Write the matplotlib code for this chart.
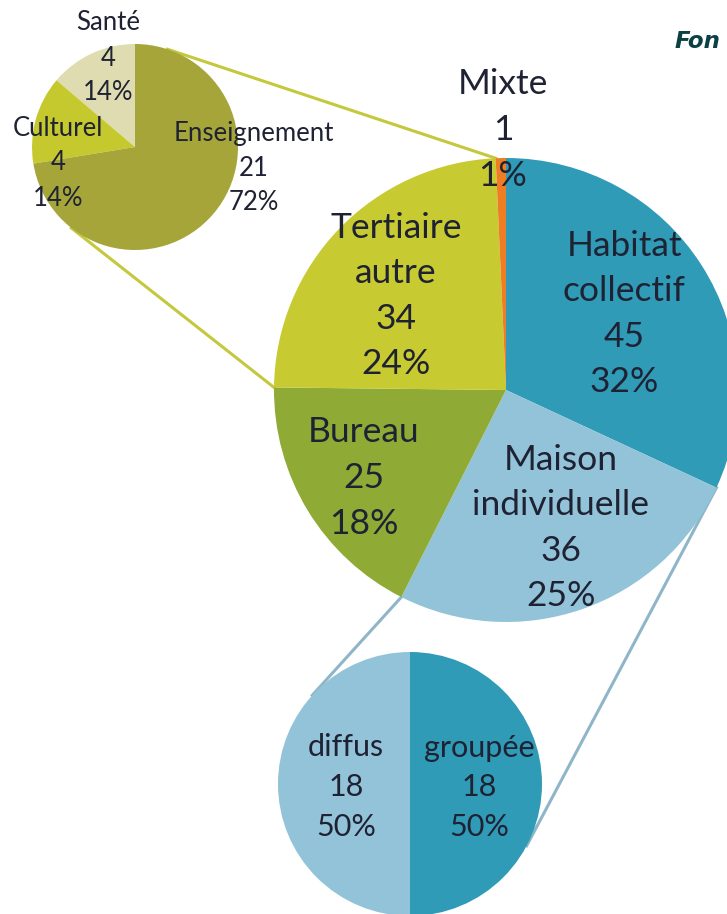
import numpy as np
import matplotlib
matplotlib.use('Agg')
import matplotlib.pyplot as plt

plt.rcParams['font.family'] = ['Lato', 'DejaVu Sans']

# --- Data ---
main_labels = ['Habitat\ncollectif', 'Maison\nindividuelle', 'Bureau', 'Tertiaire\nautre', 'Mixte']
main_values = [45, 36, 25, 34, 1]
main_pct = ['32%', '25%', '18%', '24%', '1%']

tert_labels = ['Santé', 'Culturel', 'Enseignement']
tert_values = [4, 4, 21]
tert_pct = ['14%', '14%', '72%']

maison_labels = ['diffus', 'groupée']
maison_values = [18, 18]
maison_pct = ['50%', '50%']

# --- Colours / layout ---
main_colors = ['#2f9bb7', '#93c3d8', '#8fab36', '#c8ca32', '#ee7d23']
tert_colors = ['#dedcb0', '#c6c92e', '#a6a53a']
maison_colors = ['#93c3d8', '#2f9bb7']
txt = '#1f2233'

W, H = 727, 914
fig = plt.figure(figsize=(W / 100, H / 100), dpi=100)
ax = fig.add_axes([0, 0, 1, 1])

def px(x, y):
    # pixel (top-left origin) -> data coords
    return (x, H - y)

main_c, main_r = px(506, 390), 232
tert_c, tert_r = px(135, 147), 103
mais_c, mais_r = px(410, 784), 132

wm, _ = ax.pie(main_values, colors=main_colors, startangle=90, counterclock=False,
               center=main_c, radius=main_r, frame=True)
wt, _ = ax.pie(tert_values, colors=tert_colors, startangle=90, counterclock=True,
               center=tert_c, radius=tert_r, frame=True)
wb, _ = ax.pie(maison_values, colors=maison_colors, startangle=90, counterclock=True,
               center=mais_c, radius=mais_r, frame=True)
ax.set_xlim(0, W); ax.set_ylim(0, H); ax.set_aspect('equal'); ax.axis('off')

# --- Connector lines (tangents from slice edges to secondary pies) ---
def edge_point(c, r, ang):
    a = np.deg2rad(ang)
    return np.array([c[0] + r * np.cos(a), c[1] + r * np.sin(a)])

def tangent_point(p, c, r, side):
    d = np.array(p) - np.array(c)
    dist = np.hypot(*d)
    base = np.arctan2(d[1], d[0])
    a = base + side * np.arccos(r / dist)
    return np.array([c[0] + r * np.cos(a), c[1] + r * np.sin(a)])

tert_w = wm[3]; mais_w = wm[1]
p_top = edge_point(main_c, main_r, tert_w.theta1)
p_low = edge_point(main_c, main_r, tert_w.theta2)
for p, side in [(p_top, 1), (p_low, -1)]:
    t = tangent_point(p, tert_c, tert_r, side)
    ax.plot([p[0], t[0]], [p[1], t[1]], color='#c4c83c', lw=2.2, zorder=0)

p_l = edge_point(main_c, main_r, mais_w.theta1)
p_r = edge_point(main_c, main_r, mais_w.theta2)
for p, side in [(p_l, 1), (p_r, -1)]:
    t = tangent_point(p, mais_c, mais_r, side)
    ax.plot([p[0], t[0]], [p[1], t[1]], color='#8fb6c8', lw=2.2, zorder=0)

# --- Labels ---
main_pos = [(624, 314), (561, 528), (364, 478), (396, 296), (503, 130)]
for lab, v, pc, (x, y) in zip(main_labels, main_values, main_pct, main_pos):
    ax.text(*px(x, y), f'{lab}\n{v}\n{pc}', ha='center', va='center',
            fontsize=25.5, color=txt, linespacing=1.52)

tert_pos = [(108, 58), (58, 163), (254, 168)]
for lab, v, pc, (x, y) in zip(tert_labels, tert_values, tert_pct, tert_pos):
    ax.text(*px(x, y), f'{lab}\n{v}\n{pc}', ha='center', va='center',
            fontsize=18.5, color=txt, linespacing=1.5)

mais_pos = [(346, 787), (479, 787)]
for lab, v, pc, (x, y) in zip(maison_labels, maison_values, maison_pct, mais_pos):
    ax.text(*px(x, y), f'{lab}\n{v}\n{pc}', ha='center', va='center',
            fontsize=22, color=txt, linespacing=1.5)

ax.text(*px(675, 42), 'Fon', ha='left', va='center', fontsize=16.5,
        fontweight='bold', fontstyle='italic', color='#0b4145', family='DejaVu Sans')

fig.savefig('out.png', dpi=100)
